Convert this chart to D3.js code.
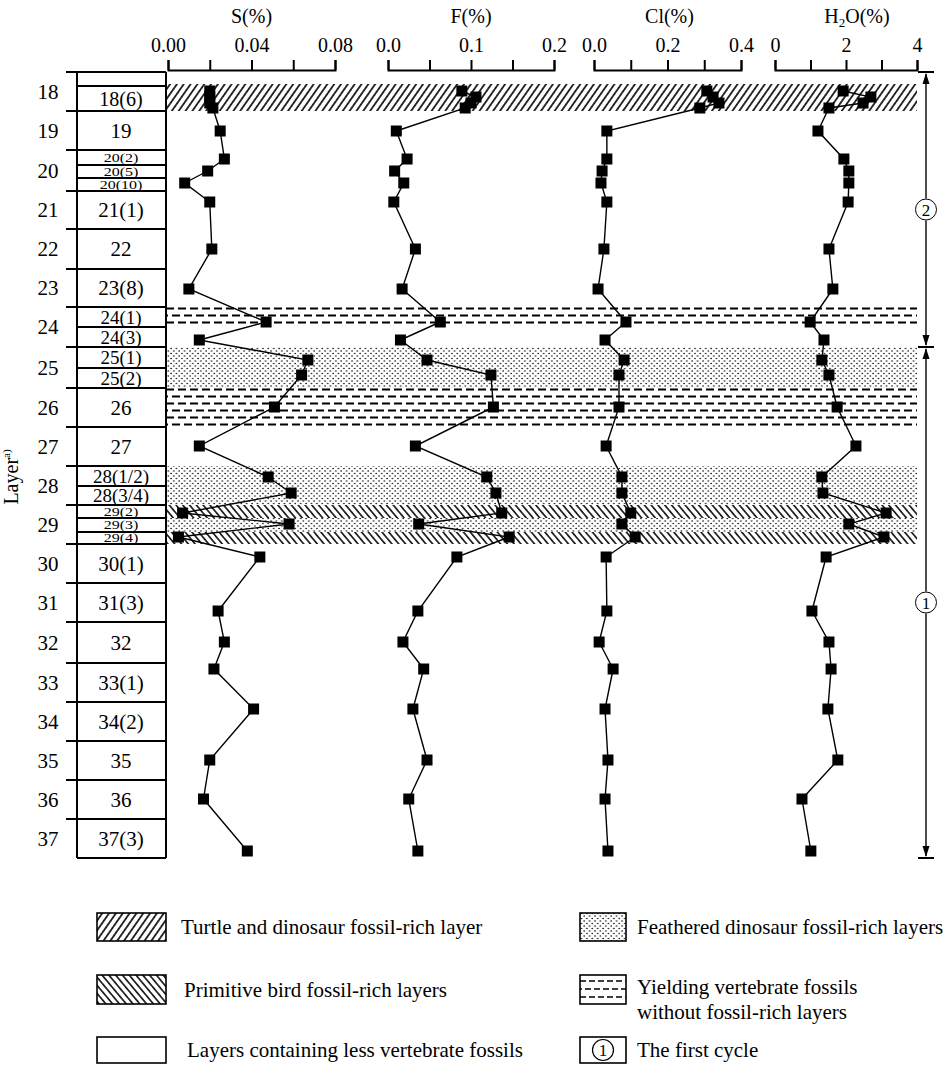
<!DOCTYPE html>
<html>
<head>
<meta charset="utf-8">
<script src="https://cdn.jsdelivr.net/npm/d3@7"></script>
<style>
  body { margin: 0; background: #fff; }
  svg { display: block; font-family: "Liberation Serif", "Times New Roman", serif; }
</style>
</head>
<body>
<div id="chart"></div>
<script>
// depth is in relative units from the top of layer 18
const layerNames = ["18","19","20","21","22","23","24","25","26","27","28","29","30","31","32","33","34","35","36","37"];
const layerTops = [0, 3.9, 7.8, 11.9, 15.7, 19.7, 23.5, 27.5, 31.6, 35.5, 39.4, 43.3, 47.2, 51.1, 55.0, 59.1, 63.0, 66.9, 70.8, 74.7];
const sectionBase = 78.6;

const subNames = ["", "18(6)", "19", "20(2)", "20(5)", "20(10)", "21(1)", "22", "23(8)", "24(1)", "24(3)",
  "25(1)", "25(2)", "26", "27", "28(1/2)", "28(3/4)", "29(2)", "29(3)", "29(4)", "30(1)", "31(3)", "32",
  "33(1)", "34(2)", "35", "36", "37(3)"];
const subTops = [0, 1.4, 3.9, 7.8, 9.3, 10.6, 11.9, 15.7, 19.7, 23.5, 25.5, 27.5, 29.6, 31.6, 35.5, 39.4,
  41.4, 43.3, 44.6, 46.0, 47.2, 51.1, 55.0, 59.1, 63.0, 66.9, 70.8, 74.7];

// fossil facies bands
const faciesType = ["turtle", "yield", "feather", "yield", "feather", "bird", "feather", "bird"];
const faciesTop = [1.2, 23.5, 27.5, 31.6, 39.4, 43.3, 44.6, 46.0];
const faciesBottom = [3.9, 25.5, 31.6, 35.5, 43.3, 44.6, 46.0, 47.2];

// samples
const sampleDepth = [1.9, 2.5, 3.1, 3.6, 5.9, 8.7, 9.9, 11.1, 13.0, 17.7, 21.7, 25.0, 26.8, 28.8, 30.3,
  33.5, 37.4, 40.5, 42.1, 44.1, 45.2, 46.5, 48.5, 53.9, 57.0, 59.7, 63.7, 68.8, 72.7, 77.9];
const sValues = [0.020, 0.020, 0.020, 0.0215, 0.025, 0.027, 0.019, 0.008, 0.020, 0.021, 0.010, 0.047, 0.015,
  0.067, 0.064, 0.051, 0.015, 0.048, 0.059, 0.007, 0.058, 0.005, 0.044, 0.024, 0.027, 0.022, 0.041, 0.020, 0.017, 0.038];
const fValues = [0.089, 0.106, 0.100, 0.093, 0.010, 0.023, 0.008, 0.019, 0.007, 0.033, 0.017, 0.063, 0.015,
  0.047, 0.124, 0.127, 0.033, 0.119, 0.130, 0.137, 0.037, 0.146, 0.083, 0.036, 0.018, 0.043, 0.030, 0.047, 0.025, 0.036];
const clValues = [0.307, 0.324, 0.340, 0.288, 0.035, 0.035, 0.022, 0.019, 0.035, 0.027, 0.011, 0.087, 0.030,
  0.082, 0.068, 0.068, 0.033, 0.076, 0.076, 0.100, 0.076, 0.112, 0.033, 0.035, 0.014, 0.052, 0.030, 0.038, 0.030, 0.038];
const h2oValues = [1.92, 2.70, 2.48, 1.52, 1.21, 1.94, 2.08, 2.08, 2.06, 1.52, 1.63, 0.99, 1.38, 1.32, 1.52,
  1.75, 2.28, 1.32, 1.35, 3.13, 2.08, 3.07, 1.44, 1.04, 1.52, 1.58, 1.49, 1.77, 0.76, 1.01];

// panel axes
const panelMax = [0.08, 0.2, 0.4, 4];
const panelTickStep = [0.02, 0.05, 0.1, 1];
const panelLabelStep = [0.04, 0.1, 0.2, 2];
const panelFormat = [".2f", ".1f", ".1f", "d"];

// sedimentary cycles
const cycleLabels = ["2", "1"];
const cycleTops = [0, 27.5];
const cycleBottoms = [27.5, 78.6];

const legendTypes = ["turtle", "feather", "bird", "yield", "none", "cycle"];
const legendTexts = [["Turtle and dinosaur fossil-rich layer"], ["Feathered dinosaur fossil-rich layers"],
  ["Primitive bird fossil-rich layers"], ["Yielding vertebrate fossils", "without fossil-rich layers"],
  ["Layers containing less vertebrate fossils"], ["The first cycle"]];

const width = 952, height = 1070;
const svg = d3.select("#chart").append("svg")
    .attr("width", width)
    .attr("height", height);

const defs = svg.append("defs");

function hatch(id, angle, gap, w) {
    const p = defs.append("pattern").attr("id", id)
        .attr("patternUnits", "userSpaceOnUse")
        .attr("width", gap).attr("height", gap)
        .attr("patternTransform", `rotate(${angle})`);
    p.append("line").attr("x1", gap / 2).attr("x2", gap / 2).attr("y1", -1).attr("y2", gap + 1)
        .attr("stroke", "#000").attr("stroke-width", w);
}
hatch("turtle", 35, 5.6, 1.6);
hatch("bird", -40, 5.2, 1.5);

const dots = defs.append("pattern").attr("id", "feather")
    .attr("patternUnits", "userSpaceOnUse").attr("width", 5.4).attr("height", 5);
dots.append("circle").attr("cx", 1).attr("cy", 1).attr("r", 0.8).attr("fill", "#000");
dots.append("circle").attr("cx", 3.7).attr("cy", 3.5).attr("r", 0.8).attr("fill", "#000");

const y = d3.scaleLinear().domain([0, sectionBase]).range([72, 858]);
const colLeft = 77, colRight = 166, bandRight = 917;

// facies bands
function drawDashes(g, x0, x1, top, bottom) {
    d3.range(top + 1.5, bottom - 1.5, 7).forEach((yy, i) => {
        g.append("line").attr("x1", x0).attr("x2", x1).attr("y1", yy).attr("y2", yy)
            .attr("stroke", "#000").attr("stroke-width", 2)
            .attr("stroke-dasharray", "8,4").attr("stroke-dashoffset", i % 2 ? 6 : 0);
    });
}

const bands = svg.append("g");
faciesType.forEach((t, i) => {
    const top = y(faciesTop[i]), bottom = y(faciesBottom[i]);
    if (t === "yield") {
        drawDashes(bands, colRight, bandRight, top, bottom);
    } else {
        bands.append("rect").attr("x", colRight).attr("y", top)
            .attr("width", bandRight - colRight).attr("height", bottom - top)
            .attr("fill", `url(#${t})`);
    }
});

// layer column
const col = svg.append("g").attr("stroke", "#000").attr("stroke-width", 2);
col.append("line").attr("x1", colLeft).attr("x2", colLeft).attr("y1", y(0)).attr("y2", y(sectionBase));
col.append("line").attr("x1", colRight).attr("x2", colRight).attr("y1", y(0)).attr("y2", y(sectionBase));
subTops.concat([sectionBase]).forEach(d => {
    col.append("line").attr("x1", colLeft).attr("x2", colRight).attr("y1", y(d)).attr("y2", y(d));
});
layerTops.forEach(d => {
    col.append("line").attr("x1", 66).attr("x2", colLeft).attr("y1", y(d)).attr("y2", y(d));
});

layerNames.forEach((n, i) => {
    const bottom = i < layerTops.length - 1 ? layerTops[i + 1] : sectionBase;
    svg.append("text").attr("x", 48).attr("y", y((layerTops[i] + bottom) / 2))
        .attr("dy", "0.35em").attr("text-anchor", "middle").attr("font-size", 21).text(n);
});

subNames.forEach((n, i) => {
    const bottom = i < subTops.length - 1 ? subTops[i + 1] : sectionBase;
    const h = bottom - subTops[i];
    const cy = y((subTops[i] + bottom) / 2);
    if (h < 1.6) {
        // thin beds: squeezed labels
        svg.append("text").attr("transform", `translate(121,${cy}) scale(1,0.72)`)
            .attr("dy", "0.35em").attr("text-anchor", "middle").attr("font-size", 16).text(n);
    } else {
        const fs = h < 2.3 ? 19 : h < 3 ? 20 : 21;
        svg.append("text").attr("x", 121).attr("y", cy)
            .attr("dy", "0.35em").attr("text-anchor", "middle").attr("font-size", fs).text(n);
    }
});

svg.append("text")
    .attr("transform", `translate(18,${y(40.5)}) rotate(-90)`)
    .attr("text-anchor", "middle").attr("font-size", 20)
    .text("Layer")
    .append("tspan").attr("font-size", 11).attr("dy", -8).text("a)");

// element panels
const panelX0 = [168, 388, 594, 775];
const panelX1 = [335, 554, 741, 917];
const titleDx = [0, 0, 2, 11];
const series = [sValues, fValues, clValues, h2oValues];

series.forEach((vals, k) => {
    const x = d3.scaleLinear().domain([0, panelMax[k]]).range([panelX0[k], panelX1[k]]);
    const step = panelTickStep[k], lab = panelLabelStep[k];
    const fmt = d3.format(panelFormat[k]);
    const axis = d3.axisTop(x)
        .tickValues(d3.range(0, panelMax[k] + step / 2, step))
        .tickSize(10).tickSizeOuter(10).tickPadding(8)
        .tickFormat(v => Math.abs(v / lab - Math.round(v / lab)) < 1e-6 ? fmt(v) : "");
    const g = svg.append("g").attr("transform", "translate(0,70)").call(axis);
    g.attr("font-family", null).attr("font-size", null);
    g.selectAll("path, line").attr("stroke", "#000").attr("stroke-width", 2);
    g.selectAll("text").attr("fill", "#000").attr("font-size", 20);

    const cx = (panelX0[k] + panelX1[k]) / 2 + titleDx[k];
    const title = svg.append("text").attr("x", cx).attr("y", 23)
        .attr("text-anchor", "middle").attr("font-size", 20);
    if (k === 3) {
        title.append("tspan").text("H");
        title.append("tspan").attr("font-size", 13).attr("dy", 4).text("2");
        title.append("tspan").attr("dy", -4).text("O(%)");
    } else {
        title.text(["S(%)", "F(%)", "Cl(%)"][k]);
    }

    const line = d3.line().x(d => x(d[0])).y(d => y(d[1]));
    const pts = vals.map((v, i) => [v, sampleDepth[i]]);
    svg.append("path").datum(pts).attr("d", line)
        .attr("fill", "none").attr("stroke", "#000").attr("stroke-width", 1.4);
    svg.append("g").selectAll("rect").data(pts).join("rect")
        .attr("x", d => x(d[0]) - 5.5).attr("y", d => y(d[1]) - 5.5)
        .attr("width", 11).attr("height", 11).attr("fill", "#000");
});

// cycle arrows
const ax = 926;
const cyc = svg.append("g").attr("stroke", "#000").attr("stroke-width", 1.4);
cycleLabels.forEach((c, i) => {
    const t = y(cycleTops[i]), b = y(cycleBottoms[i]), m = (t + b) / 2;
    cyc.append("line").attr("x1", ax).attr("x2", ax).attr("y1", t + 2).attr("y2", m - 11);
    cyc.append("line").attr("x1", ax).attr("x2", ax).attr("y1", m + 11).attr("y2", b - 2);
    cyc.append("path").attr("d", `M${ax},${t + 1}L${ax - 3.5},${t + 12}L${ax + 3.5},${t + 12}Z`).attr("fill", "#000").attr("stroke", "none");
    cyc.append("path").attr("d", `M${ax},${b - 1}L${ax - 3.5},${b - 12}L${ax + 3.5},${b - 12}Z`).attr("fill", "#000").attr("stroke", "none");
    cyc.append("line").attr("x1", ax - 8).attr("x2", ax + 8).attr("y1", t).attr("y2", t).attr("stroke-width", 2);
    cyc.append("line").attr("x1", ax - 8).attr("x2", ax + 8).attr("y1", b).attr("y2", b).attr("stroke-width", 2);
    cyc.append("circle").attr("cx", ax).attr("cy", m).attr("r", 10.5).attr("fill", "#fff").attr("stroke-width", 1);
    svg.append("text").attr("x", ax).attr("y", m).attr("dy", "0.36em").attr("text-anchor", "middle")
        .attr("font-size", 17).text(c);
});

// legend
const legX = [97, 580], legBoxW = [69, 46], legTextX = [181, 637];
const legY = [913, 975, 1037], legH = [28, 29, 26];
legendTypes.forEach((t, i) => {
    const c = i % 2, r = Math.floor(i / 2);
    const bx = legX[c], by = legY[r], bw = legBoxW[c], bh = legH[r];
    const g = svg.append("g");
    if (t === "turtle" || t === "bird" || t === "feather") {
        g.append("rect").attr("x", bx).attr("y", by).attr("width", bw).attr("height", bh)
            .attr("fill", `url(#${t})`);
    }
    if (t === "yield") {
        [by + 6, by + 14, by + 22].forEach((yy, j) => {
            g.append("line").attr("x1", bx).attr("x2", bx + bw).attr("y1", yy).attr("y2", yy)
                .attr("stroke", "#000").attr("stroke-width", 1.6).attr("stroke-dasharray", "6,3")
                .attr("stroke-dashoffset", j % 2 ? 4 : 0);
        });
    }
    g.append("rect").attr("x", bx).attr("y", by).attr("width", bw).attr("height", bh)
        .attr("fill", "none").attr("stroke", "#000").attr("stroke-width", 1.6);
    if (t === "cycle") {
        g.append("circle").attr("cx", bx + bw / 2).attr("cy", by + bh / 2).attr("r", 10.5)
            .attr("fill", "none").attr("stroke", "#000").attr("stroke-width", 1.2);
        g.append("text").attr("x", bx + bw / 2).attr("y", by + bh / 2).attr("dy", "0.36em")
            .attr("text-anchor", "middle").attr("font-size", 17).text("1");
    }
    const lines = legendTexts[i];
    const tx = legTextX[c] + (c === 0 ? r * 3 : 0);
    lines.forEach((s, j) => {
        g.append("text").attr("x", tx)
            .attr("y", by + bh / 2 + (lines.length > 1 ? -3 + j * 25 : 0))
            .attr("dy", "0.35em").attr("font-size", 21).text(s);
    });
});
</script>
</body>
</html>
